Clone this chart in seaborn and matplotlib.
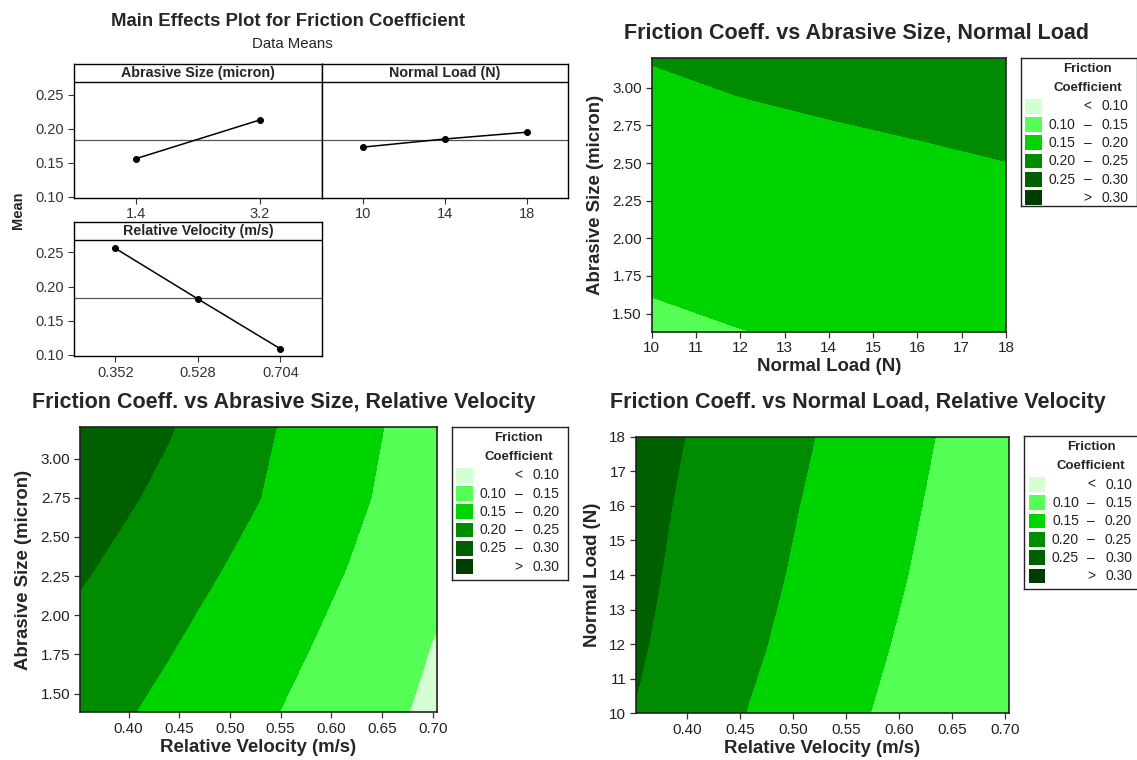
import numpy as np
import matplotlib
matplotlib.use('Agg')
import matplotlib.pyplot as plt
from matplotlib.patches import Rectangle
from matplotlib.ticker import FormatStrFormatter
import seaborn as sns

# ---- main effects (data means) ----
abrasive_levels = ['1.4', '3.2']
abrasive_means = [0.156, 0.213]
load_levels = ['10', '14', '18']
load_means = [0.173, 0.185, 0.195]
velocity_levels = ['0.352', '0.528', '0.704']
velocity_means = [0.256, 0.182, 0.109]
grand_mean = 0.183

# ---- contour grids (friction coefficient) ----
velocity_nodes = [0.352, 0.44, 0.528, 0.616, 0.704]
abrasive_nodes = [1.38, 1.835, 2.29, 2.745, 3.2]
load_nodes = [10, 12, 14, 16, 18]

# rows = abrasive size, cols = normal load
fc_abrasive_load = [
    [0.1425, 0.1493, 0.1541, 0.1585, 0.1632],
    [0.1573, 0.1641, 0.1689, 0.1733, 0.1780],
    [0.1721, 0.1789, 0.1837, 0.1881, 0.1928],
    [0.1869, 0.1937, 0.1985, 0.2029, 0.2076],
    [0.2016, 0.2084, 0.2132, 0.2176, 0.2223],
]
# rows = abrasive size, cols = relative velocity
fc_abrasive_velocity = [
    [0.2191, 0.1885, 0.1579, 0.1241, 0.0893],
    [0.2361, 0.2037, 0.1713, 0.1368, 0.0980],
    [0.2555, 0.2208, 0.1855, 0.1492, 0.1128],
    [0.2745, 0.2378, 0.2010, 0.1606, 0.1201],
    [0.2950, 0.2530, 0.2084, 0.1667, 0.1257],
]
# rows = normal load, cols = relative velocity
fc_load_velocity = [
    [0.2485, 0.2065, 0.1689, 0.1320, 0.1010],
    [0.2554, 0.2158, 0.1774, 0.1398, 0.1040],
    [0.2602, 0.2227, 0.1849, 0.1468, 0.1087],
    [0.2640, 0.2277, 0.1909, 0.1526, 0.1143],
    [0.2687, 0.2331, 0.1972, 0.1579, 0.1202],
]

band_levels = [0.0, 0.10, 0.15, 0.20, 0.25, 0.30, 0.50]
band_colors = ['#d4ffd4', '#55ff55', '#00d400', '#008c00', '#006000', '#003c00']
legend_rows = [('', '<', '0.10'), ('0.10', '–', '0.15'), ('0.15', '–', '0.20'),
               ('0.20', '–', '0.25'), ('0.25', '–', '0.30'), ('', '>', '0.30')]

sns.set_style('white')
plt.rcParams['font.family'] = ['Liberation Sans', 'DejaVu Sans']

W, H = 1137, 760
fig = plt.figure(figsize=(W / 100, H / 100), dpi=100)


def box(l, t, r, b):
    return [l / W, 1 - b / H, (r - l) / W, (b - t) / H]


TICK = '#333333'
STRIP = 0.865  # axes fraction where the header strip starts


def me_panel(rect, levels, means, name, show_y=True):
    ax = fig.add_axes(box(*rect))
    ax.axhline(grand_mean, color='#555555', lw=0.9, zorder=1)
    sns.pointplot(x=levels, y=means, color='black', markersize=4.2, linewidth=1.1,
                  errorbar=None, ax=ax, zorder=3)
    ax.set_xlim(-0.5, len(levels) - 0.5)
    ax.set_ylim(0.0985, 0.295)
    ax.axhline(0.0985 + STRIP * (0.295 - 0.0985), color='black', lw=1)
    ax.text(0.5, (1 + STRIP) / 2, name, transform=ax.transAxes, ha='center', va='center',
            fontsize=10.3, fontweight='bold')
    ax.set_yticks([0.10, 0.15, 0.20, 0.25])
    ax.yaxis.set_major_formatter(FormatStrFormatter('%.2f'))
    ax.set_xlabel('')
    ax.set_ylabel('')
    ax.tick_params(direction='out', length=4, width=0.8, color=TICK, labelcolor=TICK,
                   labelsize=10.5, pad=3, bottom=True, left=True)
    if not show_y:
        ax.tick_params(axis='y', left=False, labelleft=False)
    for s in ax.spines.values():
        s.set_color('black')
        s.set_linewidth(1)
    return ax


me_panel((74, 64.3, 321.7, 197.7), abrasive_levels, abrasive_means, 'Abrasive Size (micron)')
me_panel((321.7, 64.3, 568.3, 197.7), load_levels, load_means, 'Normal Load (N)', show_y=False)
me_panel((74, 221.7, 321.7, 356), velocity_levels, velocity_means, 'Relative Velocity (m/s)')

fig.text(288 / W, 1 - 21.7 / H, 'Main Effects Plot for Friction Coefficient', ha='center',
         va='center', fontsize=13.4, fontweight='bold')
fig.text(292 / W, 1 - 44.3 / H, 'Data Means', ha='center', va='center', fontsize=10.8)
fig.text(18 / W, 1 - 210 / H, 'Mean', rotation=90, ha='center', va='center',
         fontsize=10.5, fontweight='bold')


def contour_panel(rect, xs, ys, z, xlabel, ylabel, xticks, yticks, xfmt, yfmt, title, tcx, tcy):
    ax = fig.add_axes(box(*rect))
    ax.contourf(xs, ys, np.array(z), levels=band_levels, colors=band_colors)
    ax.set_xlim(xs[0], xs[-1])
    ax.set_ylim(ys[0], ys[-1])
    ax.set_xticks(xticks)
    ax.set_yticks(yticks)
    ax.xaxis.set_major_formatter(FormatStrFormatter(xfmt))
    ax.yaxis.set_major_formatter(FormatStrFormatter(yfmt))
    ax.tick_params(direction='out', length=4, width=0.9, color=TICK, labelcolor='#222222',
                   labelsize=11, pad=3, bottom=True, left=True)
    ax.set_xlabel(xlabel, fontsize=13.4, fontweight='bold', labelpad=2)
    ax.set_ylabel(ylabel, fontsize=13.4, fontweight='bold', labelpad=6)
    for s in ax.spines.values():
        s.set_color('#222222')
        s.set_linewidth(1.2)
    fig.text(tcx / W, 1 - tcy / H, title, ha='center', va='center', fontsize=15.5,
             fontweight='bold')
    return ax


def draw_legend(rect):
    l, t, r, b = rect
    lax = fig.add_axes(box(l, t, r, b))
    h = b - t
    lax.set_xlim(0, r - l)
    lax.set_ylim(h, 0)
    lax.set_xticks([])
    lax.set_yticks([])
    for s in lax.spines.values():
        s.set_color('#222222')
        s.set_linewidth(1)
    lax.text(67, 11, 'Friction', ha='center', va='center', fontsize=9.5, fontweight='bold')
    lax.text(67, 30, 'Coefficient', ha='center', va='center', fontsize=9.5, fontweight='bold')
    for i, (lo, sym, hi) in enumerate(legend_rows):
        top = 41 + i * 18.3
        lax.add_patch(Rectangle((4.5, top), 16.5, 14.8, facecolor=band_colors[i], lw=0))
        yc = top + 7.6
        if lo:
            lax.text(55, yc, lo, ha='right', va='center', fontsize=10, color='#222222')
        lax.text(67, yc, sym, ha='center', va='center', fontsize=10, color='#222222')
        lax.text(108, yc, hi, ha='right', va='center', fontsize=10, color='#222222')


vel_ticks = [0.40, 0.45, 0.50, 0.55, 0.60, 0.65, 0.70]
abr_ticks = [1.50, 1.75, 2.00, 2.25, 2.50, 2.75, 3.00]

contour_panel((651.7, 57.7, 1006, 331.7), load_nodes, abrasive_nodes, fc_abrasive_load,
              'Normal Load (N)', 'Abrasive Size (micron)', list(range(10, 19)), abr_ticks,
              '%d', '%.2f', 'Friction Coeff. vs Abrasive Size, Normal Load', 856.7, 33.3)
draw_legend((1020.7, 57.7, 1136.5, 205.7))

contour_panel((80, 427.3, 436.7, 712.3), velocity_nodes, abrasive_nodes, fc_abrasive_velocity,
              'Relative Velocity (m/s)', 'Abrasive Size (micron)', vel_ticks, abr_ticks,
              '%.2f', '%.2f', 'Friction Coeff. vs Abrasive Size, Relative Velocity', 284, 402.7)
draw_legend((451.7, 426.7, 567.5, 580))

contour_panel((636, 436.7, 1009, 713.3), velocity_nodes, load_nodes, fc_load_velocity,
              'Relative Velocity (m/s)', 'Normal Load (N)', vel_ticks, list(range(10, 19)),
              '%.2f', '%d', 'Friction Coeff. vs Normal Load, Relative Velocity', 858, 402.7)
draw_legend((1024, 436, 1139.8, 589.3))

fig.savefig('out.png', dpi=100)
